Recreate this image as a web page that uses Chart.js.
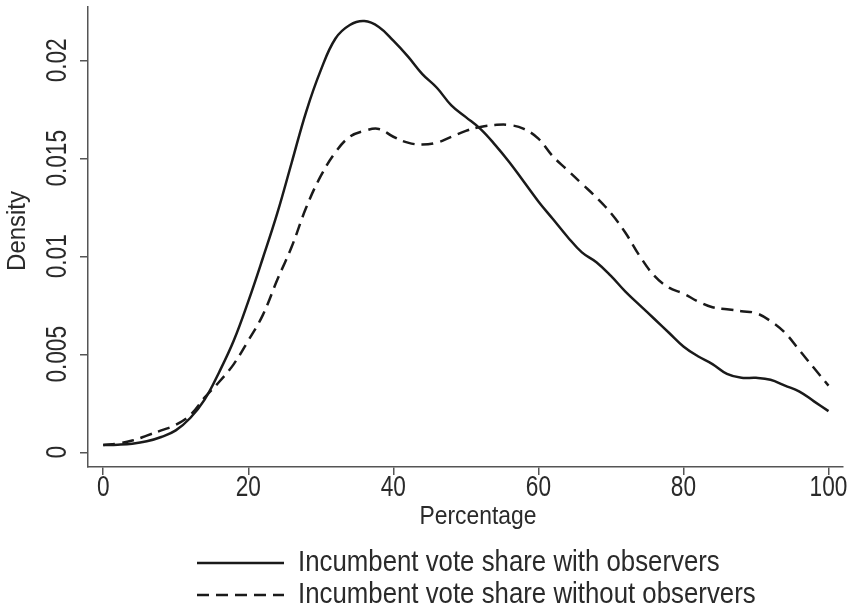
<!DOCTYPE html>
<html>
<head>
<meta charset="utf-8">
<script src="https://cdn.jsdelivr.net/npm/chart.js@4/dist/chart.umd.min.js"></script>
<style>
html, body { margin: 0; padding: 0; background: #fff; }
</style>
</head>
<body>
<canvas id="chart" width="852" height="610"></canvas>
<script>
// percentage grid the densities were read at
const xValues = [0,2,4,6,8,10,12,14,16,18,20,22,24,26,28,30,32,34,36,38,40,42,44,46,48,50,
  52,54,56,58,60,62,64,66,68,70,72,74,76,78,80,82,84,86,88,90,92,94,96,98,100];

const withObservers = [0.00037,0.00039,0.00044,0.00056,0.00078,0.00112,0.00175,0.0027,0.0041,0.0057,
  0.0077,0.0099,0.0122,0.0148,0.0174,0.0195,0.0211,0.0218,0.0220,0.0217,0.0210,0.0202,0.0193,0.0186,
  0.0177,0.0171,0.0165,0.0157,0.0148,0.0138,0.0128,0.0119,0.0110,0.0102,0.0097,0.0090,0.0082,0.0075,
  0.0068,0.0061,0.0054,0.0049,0.0045,0.0040,0.0038,0.0038,0.0037,0.0034,0.0031,0.0026,0.0021];

const withoutObservers = [0.00037,0.00045,0.00060,0.00085,0.00112,0.00140,0.0019,0.0028,0.0036,0.0045,
  0.0057,0.0070,0.0088,0.0105,0.0125,0.0141,0.0153,0.0161,0.0164,0.0165,0.0161,0.0158,0.0157,0.0158,
  0.0161,0.0164,0.0166,0.0167,0.0167,0.0165,0.0160,0.0151,0.0144,0.0137,0.0130,0.0122,0.0112,0.0100,
  0.0090,0.0084,0.0081,0.0077,0.0074,0.0073,0.0072,0.0071,0.0067,0.0061,0.0052,0.0043,0.0034];

const seriesLabels = ["Incumbent vote share with observers", "Incumbent vote share without observers"];
const xTitle = "Percentage";
const yTitle = "Density";
const xTicks = [0, 20, 40, 60, 80, 100];
const xTickLabels = ["0", "20", "40", "60", "80", "100"];
const yTicks = [0, 0.005, 0.01, 0.015, 0.02];
const yTickLabels = ["0", "0.005", "0.01", "0.015", "0.02"];

const FAMILY = "'Liberation Sans', Arial, sans-serif";
const TEXT = "#2a2a2a";
const AXIS = "#555";
const LINE = "#1a1a1a";

function toPoints(ys) {
    return xValues.map((x, i) => ({ x: x, y: ys[i] }));
}

// the original uses a narrow face; squeeze the text horizontally to match
function narrowText(ctx, text, x, y, angle, squeeze) {
    ctx.save();
    ctx.translate(x, y);
    ctx.rotate(angle);
    ctx.scale(squeeze, 1);
    ctx.fillText(text, 0, 0);
    ctx.restore();
}

// tick labels, axis titles and the stacked legend
const extras = {
    id: "extras",
    afterDraw(chart) {
        const ctx = chart.ctx;
        const xs = chart.scales.x;
        const ys = chart.scales.y;
        ctx.save();
        ctx.fillStyle = TEXT;
        ctx.font = "29px " + FAMILY;
        ctx.textAlign = "center";
        ctx.textBaseline = "middle";
        yTicks.forEach((v, i) => {
            narrowText(ctx, yTickLabels[i], 58, ys.getPixelForValue(v), -Math.PI / 2, 0.78);
        });
        xTicks.forEach((v, i) => {
            narrowText(ctx, xTickLabels[i], xs.getPixelForValue(v), 488, 0, 0.78);
        });

        ctx.font = "26px " + FAMILY;
        narrowText(ctx, xTitle, 478, 517, 0, 0.88);
        narrowText(ctx, yTitle, 18, 231, -Math.PI / 2, 0.92);

        ctx.font = "29px " + FAMILY;
        chart.data.datasets.forEach((ds, i) => {
            const y = 563 + i * 32;
            ctx.beginPath();
            ctx.setLineDash(ds.borderDash || []);
            ctx.lineWidth = 2.5;
            ctx.strokeStyle = ds.borderColor;
            ctx.moveTo(197, y);
            ctx.lineTo(284, y);
            ctx.stroke();
            ctx.setLineDash([]);
            ctx.textAlign = "left";
            narrowText(ctx, ds.label, 298, y, 0, 0.89);
        });
        ctx.restore();
    }
};

new Chart(document.getElementById("chart"), {
    type: "line",
    data: {
        datasets: [{
            label: seriesLabels[0],
            data: toPoints(withObservers),
            borderColor: LINE,
            borderWidth: 2.5,
            pointRadius: 0,
            tension: 0.4
        }, {
            label: seriesLabels[1],
            data: toPoints(withoutObservers),
            borderColor: LINE,
            borderWidth: 2.5,
            borderDash: [12, 7],
            pointRadius: 0,
            tension: 0.4
        }]
    },
    options: {
        responsive: false,
        animation: false,
        layout: { padding: { top: 7, right: 9, left: 0, bottom: 78 } },
        plugins: {
            legend: { display: false },
            tooltip: { enabled: false }
        },
        scales: {
            x: {
                type: "linear",
                min: -2.1,
                max: 102,
                afterBuildTicks: s => { s.ticks = xTicks.map(v => ({ value: v })); },
                afterFit: s => { s.height = 65; },
                border: { display: true, color: AXIS, width: 1.5 },
                grid: { drawOnChartArea: false, drawTicks: true, tickLength: 8, color: AXIS, lineWidth: 1.5 },
                ticks: { display: false }
            },
            y: {
                type: "linear",
                min: -0.00075,
                max: 0.02272,
                afterBuildTicks: s => { s.ticks = yTicks.map(v => ({ value: v })); },
                afterFit: s => { s.width = 88; },
                border: { display: true, color: AXIS, width: 1.5 },
                grid: { drawOnChartArea: false, drawTicks: true, tickLength: 8, color: AXIS, lineWidth: 1.5 },
                ticks: { display: false }
            }
        }
    },
    plugins: [extras]
});
</script>
</body>
</html>
